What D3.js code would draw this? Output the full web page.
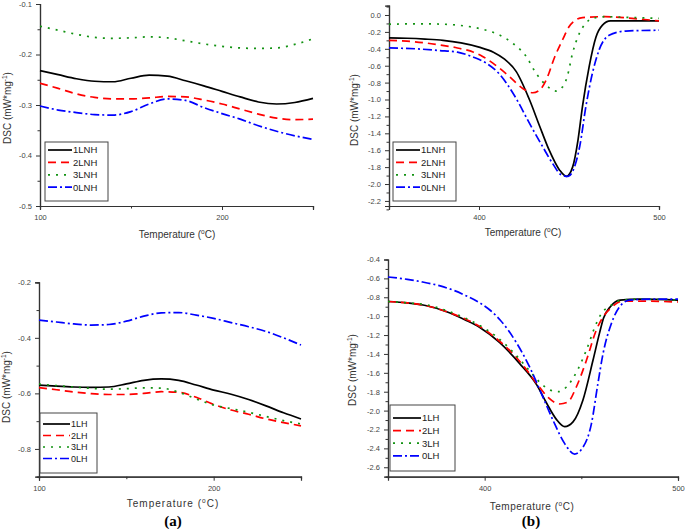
<!DOCTYPE html>
<html>
<head>
<meta charset="utf-8">
<script src="https://cdn.jsdelivr.net/npm/d3@7"></script>
<style>
  body { margin: 0; background: #fff; }
  svg { display: block; font-family: "Liberation Sans", Arial, sans-serif; }
</style>
</head>
<body>
<svg id="viz" width="685" height="529"></svg>
<script>
// ---- data ----
// panel (a) top: 100..250 C, every 10
let tempLow = [100, 110, 120, 130, 140, 150, 160, 170, 180, 190, 200, 210, 220, 230, 240, 250];
let lnh1Low = [-0.232, -0.240, -0.248, -0.253, -0.254, -0.247, -0.241, -0.243, -0.252, -0.262, -0.273, -0.284, -0.294, -0.298, -0.295, -0.287];
let lnh2Low = [-0.257, -0.267, -0.278, -0.285, -0.288, -0.288, -0.286, -0.283, -0.284, -0.290, -0.298, -0.308, -0.318, -0.326, -0.329, -0.328];
let lnh3Low = [-0.144, -0.152, -0.160, -0.166, -0.168, -0.167, -0.165, -0.167, -0.173, -0.179, -0.184, -0.187, -0.188, -0.187, -0.180, -0.169];
let lnh0Low = [-0.302, -0.310, -0.315, -0.319, -0.320, -0.313, -0.298, -0.288, -0.291, -0.305, -0.317, -0.328, -0.341, -0.352, -0.361, -0.368];

// panel (a) bottom
let lh1Low = [-0.570, -0.574, -0.577, -0.578, -0.577, -0.566, -0.553, -0.548, -0.553, -0.570, -0.588, -0.603, -0.622, -0.645, -0.670, -0.692];
let lh2Low = [-0.579, -0.587, -0.595, -0.601, -0.604, -0.604, -0.600, -0.594, -0.596, -0.614, -0.640, -0.660, -0.675, -0.692, -0.705, -0.717];
let lh3Low = [-0.567, -0.572, -0.577, -0.582, -0.585, -0.583, -0.580, -0.581, -0.596, -0.620, -0.642, -0.655, -0.668, -0.683, -0.698, -0.710];
let lh0Low = [-0.336, -0.343, -0.350, -0.354, -0.352, -0.340, -0.322, -0.310, -0.309, -0.318, -0.330, -0.345, -0.360, -0.377, -0.400, -0.426];

// panel (b) top: [temperature, DSC]
let lnh1High = [[350, -0.27], [360, -0.275], [370, -0.285], [380, -0.30], [390, -0.33], [400, -0.38], [408, -0.44], [414, -0.52], [420.7, -0.67], [428, -1.00], [433.6, -1.31], [439, -1.60], [444.6, -1.83], [448.5, -1.91], [452, -1.80], [455, -1.48], [457.5, -1.08], [461.2, -0.61], [465, -0.26], [468.6, -0.12], [473, -0.07], [500, -0.07]];
let lnh2High = [[350, -0.30], [360, -0.31], [370, -0.33], [378, -0.355], [388, -0.39], [397, -0.44], [402, -0.49], [407.7, -0.57], [417, -0.73], [424.3, -0.87], [429.9, -0.92], [433.6, -0.89], [437.3, -0.77], [442, -0.50], [446.5, -0.29], [450, -0.14], [453, -0.07], [457.5, -0.03], [470, -0.02], [485, -0.04], [500, -0.07]];
let lnh3High = [[350, -0.11], [360, -0.105], [370, -0.105], [378, -0.107], [388, -0.12], [397, -0.146], [404, -0.18], [409.6, -0.22], [418.8, -0.335], [426.2, -0.49], [431.7, -0.69], [437.3, -0.83], [442.8, -0.90], [446.5, -0.85], [449, -0.73], [452, -0.45], [455.7, -0.22], [458.5, -0.12], [463, -0.04], [470.5, -0.02], [485, -0.03], [500, -0.04]];
let lnh0High = [[350, -0.39], [365, -0.40], [378, -0.42], [388, -0.44], [397, -0.50], [404, -0.57], [411.4, -0.70], [416, -0.83], [420.7, -0.99], [428, -1.28], [435.4, -1.56], [441, -1.76], [445.6, -1.89], [449.5, -1.91], [453, -1.80], [456, -1.55], [459.4, -1.08], [463, -0.69], [466.8, -0.41], [472.3, -0.24], [481.5, -0.19], [500, -0.18]];

// panel (b) bottom
let lh1High = [[350, -0.845], [360, -0.86], [370, -0.89], [380, -0.95], [390, -1.04], [397.5, -1.12], [407.8, -1.28], [418, -1.50], [427, -1.73], [432, -1.92], [437, -2.09], [441.4, -2.17], [445.7, -2.12], [450.8, -1.89], [456, -1.47], [459.4, -1.18], [461.5, -1.02], [465, -0.90], [470, -0.83], [480, -0.82], [500, -0.83]];
let lh2High = [[350, -0.845], [360, -0.86], [370, -0.89], [380, -0.95], [390, -1.03], [397.5, -1.11], [405, -1.22], [414.7, -1.40], [421, -1.55], [426.8, -1.71], [432.8, -1.86], [438.8, -1.93], [443, -1.91], [447.4, -1.75], [452.6, -1.47], [457.7, -1.15], [461.2, -1.01], [465, -0.92], [471.5, -0.84], [480, -0.84], [500, -0.85]];
let lh3High = [[350, -0.845], [360, -0.86], [370, -0.88], [380, -0.94], [390, -1.02], [397.5, -1.10], [405, -1.20], [414.7, -1.38], [423.3, -1.58], [428.5, -1.70], [433.6, -1.78], [438, -1.80], [442.3, -1.75], [448.3, -1.56], [452.6, -1.36], [457.7, -1.08], [460.5, -0.97], [465, -0.89], [471, -0.83], [480, -0.82], [500, -0.83]];
let lh0High = [[350, -0.585], [360, -0.61], [367, -0.635], [377, -0.68], [384.4, -0.73], [391, -0.79], [397.5, -0.86], [403, -0.94], [408, -1.04], [416.4, -1.28], [423.3, -1.54], [430.2, -1.86], [435.3, -2.10], [441.4, -2.35], [446.5, -2.46], [450.8, -2.39], [455.2, -2.14], [458.6, -1.71], [461.2, -1.40], [465.5, -1.08], [469.8, -0.90], [475, -0.83], [485, -0.82], [500, -0.82]];

let lnhNames = ["1LNH", "2LNH", "3LNH", "0LNH"];
let lhNames = ["1LH", "2LH", "3LH", "0LH"];
let panelLabels = ["(a)", "(b)"];

// ---- styles ----
let colors = ["#000000", "#ff0000", "#129212", "#0000ff"];
let dashes = [null, "8,5", "2,6", "9,3,2,3"];

let svg = d3.select("#viz");
let fmt = v => d3.format(".1f")(v).replace("\u2212", "-");

function pairs(xs, ys) {
    return xs.map((x, i) => [x, ys[i]]);
}

function drawPanel(p) {
    let x = d3.scaleLinear().domain(p.xDomain).range(p.xRange);
    let y = d3.scaleLinear().domain(p.yDomain).range(p.yRange);
    let g = svg.append("g");

    // minor ticks first, then major axis
    let yAxis = d3.axisLeft(y).tickValues(p.yMajor).tickFormat(fmt).tickSize(4).tickPadding(4);
    let yMinor = d3.axisLeft(y).tickValues(p.yMinor).tickFormat("").tickSize(2.5);
    let xAxis = d3.axisBottom(x).tickValues(p.xMajor).tickFormat(d3.format("d")).tickSize(4).tickPadding(5);
    let xMinor = d3.axisBottom(x).tickValues(p.xMinor).tickFormat("").tickSize(2.5);

    let x0 = p.xRange[0], yb = p.yRange[0];
    g.append("g").attr("transform", "translate(" + x0 + ",0)").call(yMinor);
    g.append("g").attr("transform", "translate(0," + yb + ")").call(xMinor);
    g.append("g").attr("transform", "translate(" + x0 + ",0)").call(yAxis);
    g.append("g").attr("transform", "translate(0," + yb + ")").call(xAxis);
    g.selectAll(".domain").attr("stroke", "#333").attr("stroke-width", 1.2);
    g.selectAll(".tick line").attr("stroke", "#333");
    g.selectAll(".tick text").attr("fill", "#444").style("font-size", "7.5px");

    // curves
    let line = d3.line()
        .x(d => x(d[0]))
        .y(d => y(d[1]))
        .curve(d3.curveMonotoneX);
    p.series.forEach(function (s, i) {
        g.append("path")
            .datum(s)
            .attr("fill", "none")
            .attr("stroke", colors[i])
            .attr("stroke-width", 1.7)
            .attr("stroke-dasharray", dashes[i])
            .attr("d", line);
    });

    // axis titles
    let yt = g.append("text")
        .attr("transform", "translate(" + p.yTitle[0] + "," + p.yTitle[1] + ") rotate(-90)")
        .attr("text-anchor", "middle")
        .attr("fill", "#333")
        .style("font-size", "10px");
    yt.append("tspan").text("DSC (mW*mg");
    yt.append("tspan").attr("dy", -4).style("font-size", "6.5px").text("-1");
    yt.append("tspan").attr("dy", 4).text(")");

    let xt = g.append("text")
        .attr("x", p.xTitle[0]).attr("y", p.xTitle[1])
        .attr("text-anchor", "middle")
        .attr("fill", "#333")
        .style("font-size", "10px")
        .style("letter-spacing", p.spacing + "px");
    xt.append("tspan").text("Temperature (");
    xt.append("tspan").attr("dy", -4).style("font-size", "6.5px").text("o");
    xt.append("tspan").attr("dy", 4).text("C)");

    // legend
    let L = p.legend;
    g.append("rect")
        .attr("x", L.x).attr("y", L.y).attr("width", L.w).attr("height", L.h)
        .attr("fill", "#fff").attr("stroke", "#444").attr("stroke-width", 1);
    p.names.forEach(function (name, i) {
        let ry = L.y + L.top + i * L.step;
        g.append("line")
            .attr("x1", L.x + 3).attr("x2", L.x + L.sample)
            .attr("y1", ry).attr("y2", ry)
            .attr("stroke", colors[i]).attr("stroke-width", 1.7)
            .attr("stroke-dasharray", dashes[i]);
        g.append("text")
            .attr("x", L.x + L.sample + 1).attr("y", ry + 3.4)
            .attr("fill", "#222")
            .style("font-size", L.font + "px")
            .text(name);
    });
}

let panels = [
    {
        xDomain: [100, 250], xRange: [40, 313], yDomain: [-0.5, -0.1], yRange: [206, 4],
        yMajor: [-0.5, -0.4, -0.3, -0.2, -0.1], yMinor: [-0.45, -0.35, -0.25, -0.15],
        xMajor: [100, 200], xMinor: [150, 250],
        series: [pairs(tempLow, lnh1Low), pairs(tempLow, lnh2Low), pairs(tempLow, lnh3Low), pairs(tempLow, lnh0Low)],
        names: lnhNames,
        yTitle: [11, 108], xTitle: [177, 238], spacing: 0,
        legend: {x: 45, y: 142, w: 63, h: 59, top: 8, step: 12.4, sample: 27, font: 9.5}
    },
    {
        xDomain: [350, 500], xRange: [389, 659], yDomain: [-2.26, 0.11], yRange: [206, 5.7],
        yMajor: d3.range(0, 12).map(i => -i * 0.2), yMinor: d3.range(0, 12).map(i => -0.1 - i * 0.2).concat([0.1]),
        xMajor: [400, 500], xMinor: [450],
        series: [lnh1High, lnh2High, lnh3High, lnh0High],
        names: lnhNames,
        yTitle: [358, 110], xTitle: [523, 236], spacing: 0,
        legend: {x: 393, y: 142, w: 63, h: 59, top: 8, step: 12.4, sample: 27, font: 9.5}
    },
    {
        xDomain: [100, 250], xRange: [39, 301], yDomain: [-0.9, -0.2], yRange: [476.7, 282.3],
        yMajor: [-0.8, -0.6, -0.4, -0.2], yMinor: [-0.9, -0.7, -0.5, -0.3],
        xMajor: [100, 200], xMinor: [150, 250],
        series: [pairs(tempLow, lh1Low), pairs(tempLow, lh2Low), pairs(tempLow, lh3Low), pairs(tempLow, lh0Low)],
        names: lhNames,
        yTitle: [10, 387], xTitle: [173, 507], spacing: 1,
        legend: {x: 40, y: 413, w: 57, h: 60, top: 11, step: 11.5, sample: 30, font: 9}
    },
    {
        xDomain: [350, 500], xRange: [388, 678], yDomain: [-2.7, -0.4], yRange: [476.7, 259.5],
        yMajor: d3.range(0, 12).map(i => -0.4 - i * 0.2), yMinor: d3.range(0, 12).map(i => -0.5 - i * 0.2),
        xMajor: [400, 500], xMinor: [450],
        series: [lh1High, lh2High, lh3High, lh0High],
        names: lhNames,
        yTitle: [356, 370], xTitle: [532, 510], spacing: 0.5,
        legend: {x: 390, y: 405, w: 65, h: 66, top: 13, step: 12.6, sample: 31, font: 9.5}
    }
];

panels.forEach(drawPanel);

// (a) / (b) captions
svg.selectAll("text.cap")
    .data(panelLabels)
    .enter()
    .append("text")
    .attr("class", "cap")
    .attr("x", (d, i) => i === 0 ? 173 : 531)
    .attr("y", 526)
    .attr("text-anchor", "middle")
    .style("font-family", "'Liberation Serif', 'Times New Roman', serif")
    .style("font-weight", "bold")
    .style("font-size", "15px")
    .text(d => d);
</script>
</body>
</html>
